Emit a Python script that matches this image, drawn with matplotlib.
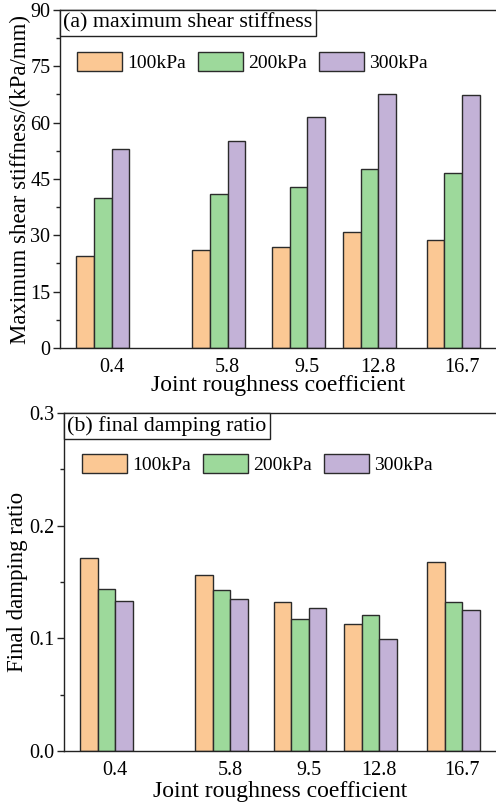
import numpy as np
import matplotlib
matplotlib.use("Agg")
import matplotlib.pyplot as plt
from matplotlib.offsetbox import AnchoredText
from matplotlib.ticker import MultipleLocator

plt.rcParams['font.family'] = ['Liberation Serif', 'DejaVu Serif']
plt.rcParams['mathtext.fontset'] = 'stix'

# joint roughness coefficient for each specimen
jrc = [0.4, 5.8, 9.5, 12.8, 16.7]
jrc_labels = ['0.4', '5.8', '9.5', '12.8', '16.7']
pressures = ['100kPa', '200kPa', '300kPa']
colors = ['#FBC894', '#9DD99B', '#C3B2D7']

# maximum shear stiffness, kPa/mm
stiff_100 = [24.6, 26.2, 27.0, 30.9, 28.7]
stiff_200 = [39.9, 40.9, 43.0, 47.6, 46.7]
stiff_300 = [52.9, 55.1, 61.4, 67.5, 67.3]

# final damping ratio
damp_100 = [0.171, 0.156, 0.132, 0.113, 0.168]
damp_200 = [0.144, 0.143, 0.117, 0.121, 0.132]
damp_300 = [0.133, 0.135, 0.127, 0.099, 0.125]

W, H = 496, 805
fig = plt.figure(figsize=(W / 100, H / 100), dpi=100)

bw = 0.82
xmin, xmax = -2.0, 18.5


def panel(rect, series, ylim, ystep, ylabel, tag, fmt, leg_anchor, ylab_x, xlab_y):
    ax = fig.add_axes(rect)
    x = np.array(jrc)
    for k, vals in enumerate(series):
        ax.bar(x + (k - 2) * bw, vals, width=bw, align='edge',
               color=colors[k], edgecolor='#2b2b2b', linewidth=1.0,
               label=pressures[k])
    ax.set_xlim(xmin, xmax)
    ax.set_ylim(*ylim)
    ax.set_xticks(jrc)
    ax.set_xticklabels(jrc_labels)
    ax.yaxis.set_major_locator(MultipleLocator(ystep))
    ax.yaxis.set_minor_locator(MultipleLocator(ystep / 2))
    ax.yaxis.set_major_formatter(fmt)
    ax.tick_params(axis='x', length=0, pad=7, labelsize=14.5)
    ax.tick_params(axis='y', which='major', direction='out', length=5,
                   width=1, labelsize=14.5, pad=2, color='#222')
    ax.tick_params(axis='y', which='minor', direction='out', length=3,
                   width=1, color='#222')
    for s in ['left', 'bottom', 'top', 'right']:
        ax.spines[s].set_color('#222')
        ax.spines[s].set_linewidth(1.0)
    ax.set_ylabel(ylabel, fontsize=16.5)
    ax.yaxis.set_label_coords(ylab_x, 0.5)
    ax.set_xlabel('Joint roughness coefficient', fontsize=17)
    ax.xaxis.set_label_coords(0.495, xlab_y)

    at = AnchoredText(tag, loc='upper left', borderpad=0, pad=0.15,
                      prop=dict(size=15.8), frameon=True)
    at.patch.set_edgecolor('#222')
    at.patch.set_linewidth(1.0)
    ax.add_artist(at)

    ax.legend(loc='upper left', bbox_to_anchor=leg_anchor, ncol=3,
              frameon=False, fontsize=14, handlelength=2.3, handleheight=1.1,
              handletextpad=0.3, columnspacing=0.6, borderpad=0,
              borderaxespad=0)
    return ax


# (a) stiffness panel
top = panel([60 / W, 1 - 348 / H, (xmax - xmin) * 21.5 / W, 338 / H],
            [stiff_100, stiff_200, stiff_300], (0, 90), 15,
            'Maximum shear stiffness/(kPa/mm)', '(a) maximum shear stiffness',
            plt.FuncFormatter(lambda v, p: f'{v:.0f}'),
            (17 / 441, 1 - 42 / 338), -0.066, -0.08)

# (b) damping panel
bot = panel([64 / W, 1 - 751 / H, (xmax - xmin) * 21.3 / W, 338 / H],
            [damp_100, damp_200, damp_300], (0, 0.3), 0.1,
            'Final damping ratio', '(b) final damping ratio',
            plt.FuncFormatter(lambda v, p: f'{v:.1f}'),
            (18 / 437, 1 - 41 / 338), -0.082, -0.088)

fig.savefig('out.png', dpi=100)
